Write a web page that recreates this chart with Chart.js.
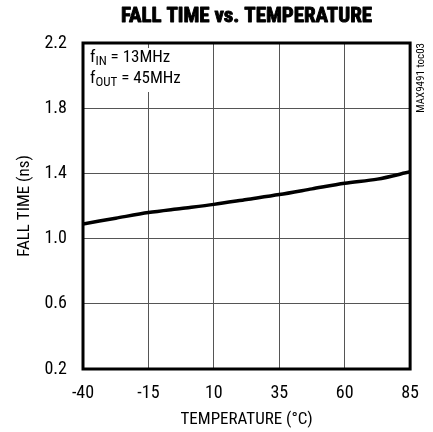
<!DOCTYPE html>
<html>
<head>
<meta charset="utf-8">
<script src="https://cdn.jsdelivr.net/npm/chart.js@4"></script>
<style>
  html, body { margin: 0; padding: 0; background: #fff; }
  canvas { display: block; }
</style>
</head>
<body>
<canvas id="fallChart" width="433" height="432"></canvas>
<script>
// data
const temps = [-40, -27.5, -15, -2.5, 10, 22.5, 35, 47.5, 60, 72.5, 85];
const fallTime = [1.09, 1.125, 1.16, 1.185, 1.21, 1.24, 1.27, 1.305, 1.34, 1.365, 1.41];
const xTicks = [-40, -15, 10, 35, 60, 85];
const yTicks = [0.2, 0.6, 1.0, 1.4, 1.8, 2.2];

const FONT = "'Roboto Condensed', 'DejaVu Sans Condensed', sans-serif";

// frame, heading, note and side tag
const extras = {
  id: 'extras',
  afterDraw(chart) {
    const ctx = chart.ctx;
    const a = chart.chartArea;
    ctx.save();

    ctx.lineWidth = 3;
    ctx.strokeStyle = '#000';
    ctx.strokeRect(a.left, a.top, a.right - a.left, a.bottom - a.top);

    // heading, fitted to the original width and thickened a bit
    ctx.fillStyle = '#000';
    ctx.font = 'bold 20px ' + FONT;
    ctx.textAlign = 'center';
    ctx.textBaseline = 'alphabetic';
    const heading = 'FALL TIME vs. TEMPERATURE';
    const sx = 251 / ctx.measureText(heading).width;
    ctx.save();
    ctx.translate((a.left + a.right) / 2, 22);
    ctx.scale(sx, 1);
    ctx.lineWidth = 0.9;
    ctx.lineJoin = 'round';
    ctx.fillText(heading, 0, 0);
    ctx.strokeText(heading, 0, 0);
    ctx.restore();

    // note box
    ctx.fillStyle = '#fff';
    ctx.fillRect(a.left + 2, a.top + 5, 96, 44);
    ctx.fillStyle = '#000';
    ctx.textAlign = 'left';
    const noteX = a.left + 7;
    const lines = [['f', 'IN', ' = 13MHz', 62], ['f', 'OUT', ' = 45MHz', 83]];
    lines.forEach(([f, sub, rest, y]) => {
      let x = noteX;
      ctx.font = '17px ' + FONT;
      ctx.fillText(f, x, y);
      x += ctx.measureText(f).width;
      ctx.font = '13px ' + FONT;
      ctx.fillText(sub, x, y + 3);
      x += ctx.measureText(sub).width;
      ctx.font = '17px ' + FONT;
      ctx.fillText(rest, x, y);
    });

    ctx.font = '11px ' + FONT;
    ctx.translate(424, 43);
    ctx.rotate(-Math.PI / 2);
    ctx.textAlign = 'right';
    ctx.fillText('MAX9491 toc03', 0, 0);
    ctx.restore();
  }
};

new Chart(document.getElementById('fallChart').getContext('2d'), {
  type: 'line',
  data: {
    datasets: [{
      data: temps.map((t, i) => ({ x: t, y: fallTime[i] })),
      borderColor: '#000',
      borderWidth: 3.5,
      pointRadius: 0,
      tension: 0.3,
      fill: false
    }]
  },
  options: {
    responsive: false,
    animation: false,
    layout: { padding: { top: 43, right: 21, left: 0, bottom: 0 } },
    plugins: { legend: { display: false }, tooltip: { enabled: false } },
    scales: {
      x: {
        type: 'linear',
        min: -40,
        max: 85,
        afterBuildTicks: scale => { scale.ticks = xTicks.map(v => ({ value: v })); },
        afterFit: scale => { scale.height = 63; },
        grid: { color: '#555', lineWidth: 1, drawTicks: false },
        border: { display: false },
        ticks: { color: '#000', padding: 14, font: { family: FONT, size: 18 } },
        title: {
          display: true,
          text: 'TEMPERATURE (°C)',
          color: '#000',
          padding: { top: 0, bottom: 2 },
          font: { family: FONT, size: 17 }
        }
      },
      y: {
        min: 0.2,
        max: 2.2,
        afterBuildTicks: scale => { scale.ticks = yTicks.map(v => ({ value: v })); },
        afterFit: scale => { scale.width = 83; },
        grid: { color: '#555', lineWidth: 1, drawTicks: false },
        border: { display: false },
        ticks: {
          color: '#000',
          padding: 16,
          font: { family: FONT, size: 18 },
          callback: v => v.toFixed(1)
        },
        title: {
          display: true,
          text: 'FALL TIME (ns)',
          color: '#000',
          padding: { top: 15, bottom: 0 },
          font: { family: FONT, size: 17 }
        }
      }
    }
  },
  plugins: [extras]
});
</script>
</body>
</html>
